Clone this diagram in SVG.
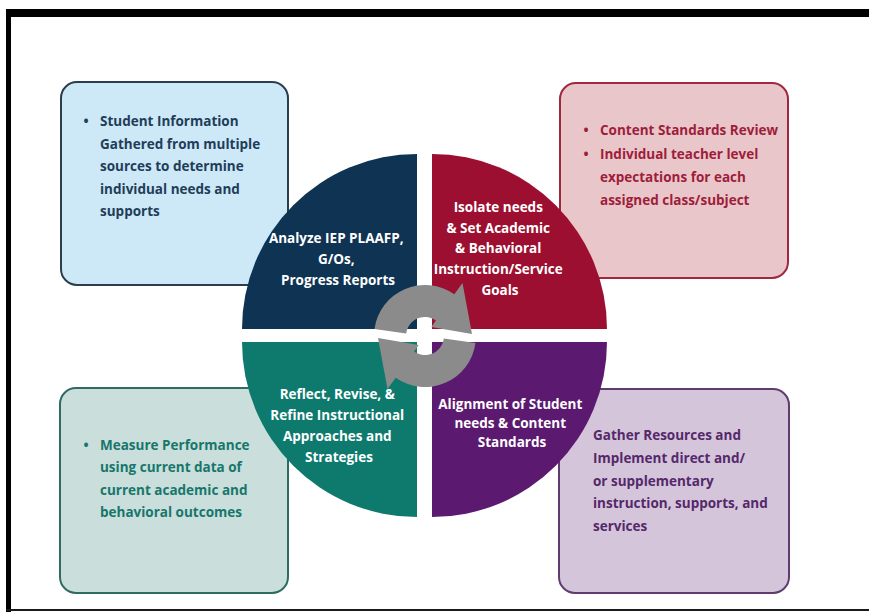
<svg xmlns="http://www.w3.org/2000/svg" width="869" height="616" viewBox="0 0 869 616">
  <style>
    .box { stroke-width: 2; }
    .txt { font-family: "Open Sans", "Liberation Sans", sans-serif; font-weight: 700; font-size: 13.5px; }
    .q { fill: #ffffff; text-anchor: middle; }
    .blue { fill: #1f3d58; }
    .red { fill: #9e1d3b; }
    .teal { fill: #17766c; }
    .plum { fill: #55286a; }
  </style>
  <defs>
    <!-- one curved arrow of the cycle icon; the second is the same shape turned half a turn -->
    <path id="cycleArrow" d="M406.2,333.4 L374.5,328.9 A51,51 0 0 1 454.3,294.2 L462.5,283.0 L472,334.0 L431.3,327.0 L435.9,320.4 A19,19 0 0 0 406.2,333.4 Z"/>
  </defs>

  <rect width="869" height="616" fill="#ffffff"/>

  <!-- page frame -->
  <g id="frame" fill="#000000">
    <rect x="6" y="9" width="863" height="8"/>
    <rect x="6" y="9" width="5" height="603"/>
    <rect x="6" y="609" width="863" height="2" fill="#1a1a1a"/>
  </g>

  <!-- corner boxes -->
  <g id="box-student-info">
    <rect class="box" x="61" y="82" width="227" height="203" rx="16" fill="#cde8f7" stroke="#2b3e4f"/>
    <text class="txt blue" x="86" y="126" text-anchor="middle">•</text>
    <text class="txt blue">
      <tspan x="100" y="126">Student Information</tspan>
      <tspan x="100" y="148.5">Gathered from multiple</tspan>
      <tspan x="100" y="171">sources to determine</tspan>
      <tspan x="100" y="193.5">individual needs and</tspan>
      <tspan x="100" y="216">supports</tspan>
    </text>
  </g>

  <g id="box-content-standards">
    <rect class="box" x="560" y="83" width="228" height="195" rx="16" fill="#e9c6c9" stroke="#a3263f"/>
    <text class="txt red" x="586" y="134.5" text-anchor="middle">•</text>
    <text class="txt red" x="586" y="158.5" text-anchor="middle">•</text>
    <text class="txt red">
      <tspan x="600" y="134.5">Content Standards Review</tspan>
      <tspan x="600" y="158.5">Individual teacher level</tspan>
      <tspan x="600" y="181.5">expectations for each</tspan>
      <tspan x="600" y="204.5">assigned class/subject</tspan>
    </text>
  </g>

  <g id="box-measure">
    <rect class="box" x="60" y="388" width="228" height="205" rx="16" fill="#cadfdb" stroke="#2f6b63"/>
    <text class="txt teal" x="86" y="449.5" text-anchor="middle">•</text>
    <text class="txt teal">
      <tspan x="100" y="449.5">Measure Performance</tspan>
      <tspan x="100" y="471.5">using current data of</tspan>
      <tspan x="100" y="494.5">current academic and</tspan>
      <tspan x="100" y="517">behavioral outcomes</tspan>
    </text>
  </g>

  <g id="box-resources">
    <rect class="box" x="559" y="389" width="230" height="204" rx="16" fill="#d4c5db" stroke="#5e3d6e"/>
    <text class="txt plum">
      <tspan x="593" y="439.5">Gather Resources and</tspan>
      <tspan x="593" y="462.5">Implement direct and/</tspan>
      <tspan x="593" y="485.5">or supplementary</tspan>
      <tspan x="593" y="507.5">instruction, supports, and</tspan>
      <tspan x="593" y="530.5">services</tspan>
    </text>
  </g>

  <!-- cycle quadrants -->
  <g id="q-analyze">
    <path d="M417,329 L242,329 A175,175 0 0 1 417,154 Z" fill="#0f3453"/>
    <text class="txt q">
      <tspan x="338" y="242.5">Analyze IEP PLAAFP,</tspan>
      <tspan x="338" y="263.5">G/Os,</tspan>
      <tspan x="338" y="284.5">Progress Reports</tspan>
    </text>
  </g>

  <g id="q-isolate">
    <path d="M432,329 L432,154 A175,175 0 0 1 607,329 Z" fill="#9c0f30"/>
    <text class="txt q">
      <tspan x="500" y="211.5">Isolate needs</tspan>
      <tspan x="500" y="232.5">&amp; Set Academic</tspan>
      <tspan x="500" y="252.5">&amp; Behavioral</tspan>
      <tspan x="500" y="273.5">Instruction/Service</tspan>
      <tspan x="500" y="294.5">Goals</tspan>
    </text>
  </g>

  <g id="q-reflect">
    <path d="M417,342 L417,517 A175,175 0 0 1 242,342 Z" fill="#0e7a6e"/>
    <text class="txt q">
      <tspan x="339" y="398.5">Reflect, Revise, &amp;</tspan>
      <tspan x="339" y="419.5">Refine Instructional</tspan>
      <tspan x="339" y="440.5">Approaches and</tspan>
      <tspan x="339" y="461.5">Strategies</tspan>
    </text>
  </g>

  <g id="q-alignment">
    <path d="M432,342 L607,342 A175,175 0 0 1 432,517 Z" fill="#5b1a6f"/>
    <text class="txt q">
      <tspan x="512" y="408.5">Alignment of Student</tspan>
      <tspan x="512" y="427.5">needs &amp; Content</tspan>
      <tspan x="512" y="446.5">Standards</tspan>
    </text>
  </g>

  <!-- cycle arrows in the middle -->
  <g id="connectors" fill="#8b8b8b">
    <use href="#cycleArrow"/>
    <use href="#cycleArrow" transform="rotate(180 425 336)"/>
  </g>
</svg>
